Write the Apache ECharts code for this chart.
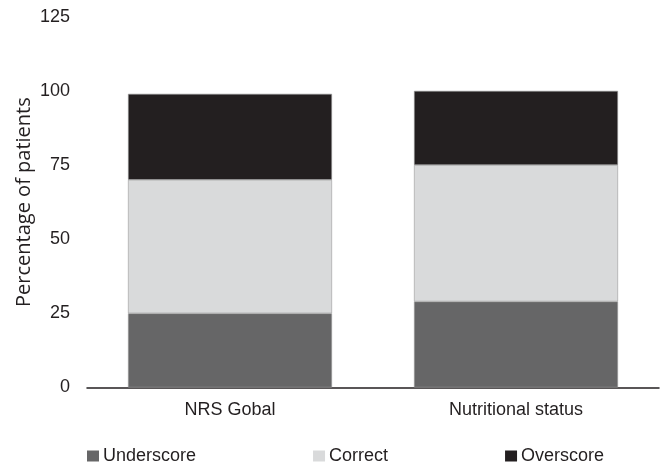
<!DOCTYPE html>
<html>
<head>
<meta charset="utf-8">
<script src="https://cdn.jsdelivr.net/npm/echarts@6/dist/echarts.min.js"></script>
<style>
  html, body { margin: 0; padding: 0; background: #fff; }
  #chart { width: 664px; height: 466px; }
</style>
</head>
<body>
<div id="chart"></div>
<script>
// Categories on the x axis
const categories = ['NRS Gobal', 'Nutritional status'];

// Stacked percentages per category
const underscore = [25, 29];
const correct = [45, 46];
const overscore = [29, 25];

// Y axis ticks
const yTicks = [0, 25, 50, 75, 100, 125];

const FONT = '"Liberation Sans", Arial, sans-serif';
const TEXT = '#231f20';

const chart = echarts.init(document.getElementById('chart'), null, { renderer: 'canvas' });

const segStyle = (color) => ({
  color: color,
  borderColor: '#9a9a9a',
  borderWidth: 0.6
});

chart.setOption({
  animation: false,
  textStyle: { fontFamily: FONT },
  grid: { left: 87, right: 5, top: 16.7, bottom: 78.5, containLabel: false },
  legend: {
    left: 87,
    top: 447,
    padding: 0,
    itemWidth: 12,
    itemHeight: 11,
    itemGap: 117,
    icon: 'rect',
    itemStyle: { borderWidth: 0 },
    textStyle: { fontFamily: FONT, fontSize: 18, color: TEXT, padding: [0, 0, 0, -1] },
    data: ['Underscore', 'Correct', 'Overscore']
  },
  xAxis: {
    type: 'category',
    data: categories,
    axisLine: { lineStyle: { color: '#231f20', width: 1.5 } },
    axisTick: { show: false },
    axisLabel: { fontFamily: FONT, fontSize: 18, color: TEXT, margin: 14 }
  },
  yAxis: {
    type: 'value',
    min: yTicks[0],
    max: yTicks[yTicks.length - 1],
    interval: 25,
    name: 'Percentage of patients',
    nameLocation: 'middle',
    nameGap: 53,
    nameMoveOverlap: false,
    nameTextStyle: { fontFamily: '"Open Sans", "Noto Sans", sans-serif', fontSize: 20, color: TEXT },
    axisLine: { show: false },
    axisTick: { show: false },
    splitLine: { show: false },
    axisLabel: { fontFamily: FONT, fontSize: 18, color: TEXT, margin: 17 }
  },
  series: [
    { name: 'Underscore', type: 'bar', stack: 'total', data: underscore, barWidth: 204, itemStyle: segStyle('#666667') },
    { name: 'Correct', type: 'bar', stack: 'total', data: correct, barWidth: 204, itemStyle: segStyle('#d9dadb') },
    { name: 'Overscore', type: 'bar', stack: 'total', data: overscore, barWidth: 204, itemStyle: segStyle('#231f20') }
  ]
});
</script>
</body>
</html>
